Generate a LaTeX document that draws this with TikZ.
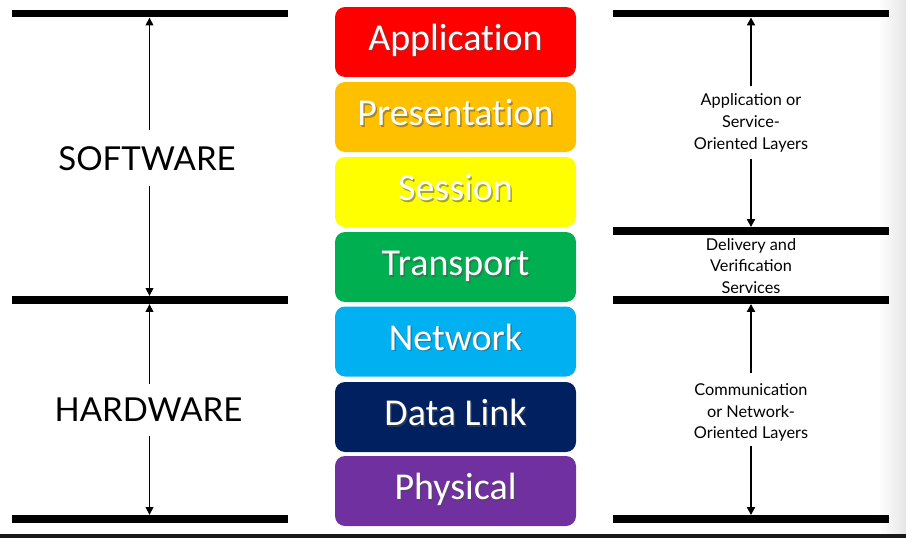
\documentclass[tikz,border=0pt]{standalone}
\usepackage{fontspec}
\setmainfont{Lato}
\newfontfamily\layerfont[Ligatures={NoCommon}]{Carlito}
\usetikzlibrary{arrows.meta}
\definecolor{cRed}{HTML}{FF0000}
\definecolor{cOrange}{HTML}{FFC000}
\definecolor{cYellow}{HTML}{FFFF00}
\definecolor{cGreen}{HTML}{00B050}
\definecolor{cBlue}{HTML}{00B0F0}
\definecolor{cNavy}{HTML}{002060}
\definecolor{cPurple}{HTML}{7030A0}
\newcommand\mklayer[4]{%
  \node[layer, fill=#2] (#1) at (455.5,#3) {};
  \node[ltext, text=black!70, opacity=.5] at ([shift={(1.5,1.5)}]#1.center) {#4};
  \node[ltext, text=white] at (#1.center) {#4};
}
\begin{document}
\begin{tikzpicture}[x=1pt,y=-1pt,
  bar/.style={fill=black, draw=none, inner sep=0pt, minimum width=276pt, minimum height=7.5pt},
  layer/.style={rounded corners=10pt, draw=none, minimum width=241pt, minimum height=70pt, inner sep=0pt},
  ltext/.style={font=\layerfont\fontsize{38}{44}\selectfont, text height=24pt, text depth=7pt, inner sep=0pt},
  arr/.style={-{Triangle[length=8pt,width=8pt]}, line width=2pt},
  larr/.style={-{Triangle[length=8pt,width=7.5pt]}, line width=1.7pt},
  big/.style={font=\fontsize{33}{40}\selectfont, inner sep=0pt},
  small/.style={font=\fontsize{16.3}{21.7}\selectfont, align=center, inner sep=0pt}
]
\useasboundingbox (0,0) rectangle (906,538);
\fill[white] (0,0) rectangle (906,538);
\shade[left color=white, right color=black!10] (878,0) rectangle (906,538);
\fill[black!90] (0,534) rectangle (906,538);

% left bars
\node[bar] (L1) at (149.5,13.5) {};
\node[bar] (L2) at (149.5,300) {};
\node[bar] (L3) at (149.5,519) {};
% right bars
\node[bar] (R1) at (751,13.5) {};
\node[bar] (R2) at (751,231) {};
\node[bar] (R3) at (751,300) {};
\node[bar] (R4) at (751,519) {};

% layers
\mklayer{app}{cRed}{42}{Application}
\mklayer{pres}{cOrange}{117}{Presentation}
\mklayer{sess}{cYellow}{192}{Session}
\mklayer{trans}{cGreen}{267}{Transport}
\mklayer{net}{cBlue}{341.5}{Network}
\mklayer{dl}{cNavy}{417}{Data Link}
\mklayer{phys}{cPurple}{491}{Physical}

% left labels
\node[big] (sw) at (147,159) {SOFTWARE};
\node[big] (hw) at (148.5,409.5) {HARDWARE};
\coordinate (swT) at (149.5,130);
\coordinate (swB) at (149.5,186);
\coordinate (hwT) at (149.5,384);
\coordinate (hwB) at (149.5,436);
\draw[larr] (swT) -- (L1.south);
\draw[larr] (swB) -- (L2.north);
\draw[larr] (hwT) -- (L2.south);
\draw[larr] (hwB) -- (L3.north);

% right labels
\node[small] (aso) at (751,123) {Application or\\Service-\\Oriented Layers};
\node[small] (dvs) at (751,266) {Delivery and\\Verification\\Services};
\node[small] (cno) at (751,412.5) {Communication\\or Network-\\Oriented Layers};
\coordinate (asoT) at (751,86);
\coordinate (asoB) at (751,159);
\coordinate (cnoT) at (751,373);
\coordinate (cnoB) at (751,446);
\draw[arr] (asoT) -- (R1.south);
\draw[arr] (asoB) -- (R2.north);
\draw[arr] (cnoT) -- (R3.south);
\draw[arr] (cnoB) -- (R4.north);
\end{tikzpicture}
\end{document}
